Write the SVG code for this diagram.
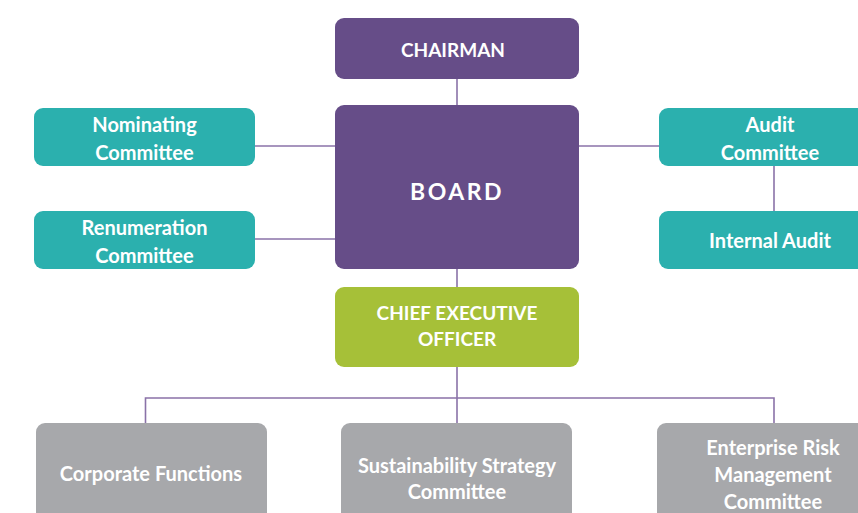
<svg xmlns="http://www.w3.org/2000/svg" width="858" height="513" viewBox="0 0 858 513">
<style>
.purple{fill:#664d88}
.teal{fill:#2bb0ae}
.green{fill:#a6c038}
.gray{fill:#a7a8ab}
text{font-family:Lato,"Open Sans","Liberation Sans",sans-serif;font-weight:700;fill:#ffffff;text-anchor:middle;font-size:20px}
.caps{font-size:19px}
.conn{stroke:#8a72a8;stroke-width:1.6;fill:none}
</style>
<rect width="858" height="513" fill="#ffffff"/>
<g id="connectors">
<line class="conn" x1="457" y1="79" x2="457" y2="106"/>
<line class="conn" x1="255" y1="146" x2="336" y2="146"/>
<line class="conn" x1="255" y1="239" x2="336" y2="239"/>
<line class="conn" x1="578" y1="146" x2="660" y2="146"/>
<line class="conn" x1="774" y1="166" x2="774" y2="212"/>
<line class="conn" x1="457" y1="268" x2="457" y2="288"/>
<line class="conn" x1="457" y1="366" x2="457" y2="424"/>
<polyline class="conn" points="145.5,424 145.5,398 774,398 774,424"/>
</g>
<g id="chairman">
<rect class="purple" x="335" y="18" width="244" height="61" rx="9"/>
<text class="caps" x="453" y="57">CHAIRMAN</text>
</g>
<g id="board">
<rect class="purple" x="335" y="105" width="244" height="164" rx="9"/>
<text x="457" y="200" style="font-size:23px;letter-spacing:2.5px">BOARD</text>
</g>
<g id="nominating">
<rect class="teal" x="34" y="108" width="221" height="58" rx="9"/>
<text x="144.5" y="132">Nominating</text>
<text x="144.5" y="160">Committee</text>
</g>
<g id="renumeration">
<rect class="teal" x="34" y="211" width="221" height="58" rx="9"/>
<text x="144.5" y="235">Renumeration</text>
<text x="144.5" y="263">Committee</text>
</g>
<g id="audit">
<rect class="teal" x="659" y="108" width="215" height="58" rx="9"/>
<text x="770" y="132">Audit</text>
<text x="770" y="160">Committee</text>
</g>
<g id="internal-audit">
<rect class="teal" x="659" y="211" width="215" height="58" rx="9"/>
<text x="770" y="248">Internal Audit</text>
</g>
<g id="ceo">
<rect class="green" x="335" y="287" width="244" height="80" rx="9"/>
<text class="caps" x="457" y="320">CHIEF EXECUTIVE</text>
<text class="caps" x="457" y="346">OFFICER</text>
</g>
<g id="corporate-functions">
<rect class="gray" x="36" y="423" width="231" height="110" rx="9"/>
<text x="151" y="481">Corporate Functions</text>
</g>
<g id="sustainability">
<rect class="gray" x="341" y="423" width="231" height="110" rx="9"/>
<text x="457" y="473">Sustainability Strategy</text>
<text x="457" y="499">Committee</text>
</g>
<g id="enterprise-risk">
<rect class="gray" x="657" y="423" width="215" height="110" rx="9"/>
<text x="773" y="455">Enterprise Risk</text>
<text x="773" y="482">Management</text>
<text x="773" y="509">Committee</text>
</g>
</svg>
